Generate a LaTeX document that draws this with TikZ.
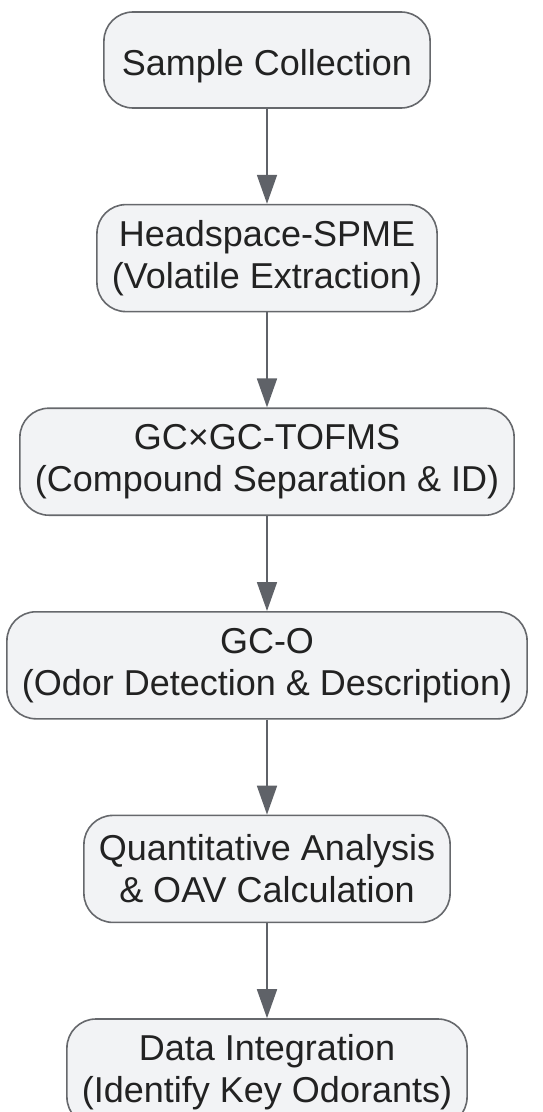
\documentclass[tikz,border=0pt]{standalone}
\usepackage{fontspec}
\setmainfont{Liberation Sans}
\usetikzlibrary{positioning,arrows.meta}
\definecolor{phaseback}{RGB}{242,243,245}
\definecolor{phaseline}{RGB}{102,104,108}
\definecolor{flowline}{RGB}{95,98,104}
\definecolor{phasetext}{RGB}{34,34,34}

\tikzset{
  phase/.style={draw=phaseline,line width=1.6pt,fill=phaseback,rounded corners=29pt,
    align=center,text=phasetext,inner xsep=15pt,minimum height=107pt,
    font=\fontsize{36pt}{42pt}\selectfont},
  flow/.style={draw=flowline,line width=1.8pt,-{Triangle[length=29pt,width=20pt]}}
}

\begin{document}
\begin{tikzpicture}[x=1pt,y=1pt,node distance=95pt]
\useasboundingbox (0,0) rectangle (542,-1112);
\node [phase,minimum height=96pt,inner xsep=18pt,text height=36pt,text depth=6pt] (collect) at (267,-60) {Sample Collection};
\node [phase,below=of collect] (spme) {Headspace-SPME\\(Volatile Extraction)};
\node [phase,below=of spme] (gcgc) {GC×GC-TOFMS\\(Compound Separation \& ID)};
\node [phase,below=of gcgc] (gco) {GC-O\\(Odor Detection \& Description)};
\node [phase,below=of gco] (quant) {Quantitative Analysis\\\& OAV Calculation};
\node [phase,below=of quant] (integ) {Data Integration\\(Identify Key Odorants)};

\draw [flow] (collect) -- (spme);
\draw [flow] (spme) -- (gcgc);
\draw [flow] (gcgc) -- (gco);
\draw [flow] (gco) -- (quant);
\draw [flow] (quant) -- (integ);
\end{tikzpicture}
\end{document}
